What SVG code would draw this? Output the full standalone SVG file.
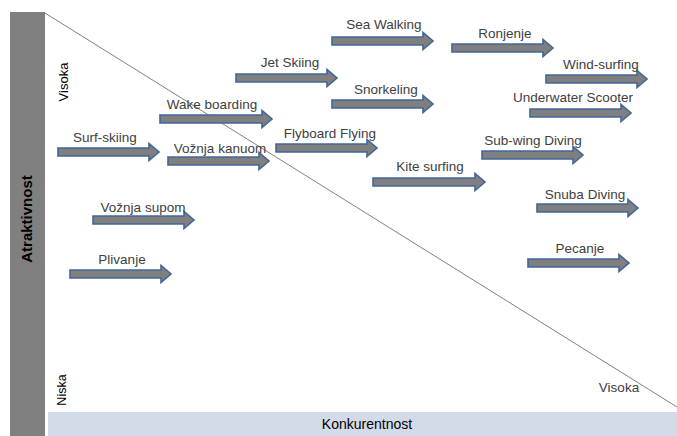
<svg xmlns="http://www.w3.org/2000/svg" xmlns:xlink="http://www.w3.org/1999/xlink" width="677" height="436" viewBox="0 0 677 436">
<style>
.lbl{font-family:"Liberation Sans",Arial,sans-serif;font-size:13.5px;fill:#404040;text-anchor:middle}
.ax{font-family:"Liberation Sans",Arial,sans-serif;font-size:12.5px;fill:#000;text-anchor:middle}
.arr{fill:#7f7f7f;stroke:#41679a;stroke-width:1.6;stroke-linejoin:miter}
</style>
<defs>
<path id="a101" class="arr" d="M0,-4 H91 V-8.5 L101,0 L91,8.5 V4 H0 Z"/>
<path id="a112" class="arr" d="M0,-4 H102 V-8.5 L112,0 L102,8.5 V4 H0 Z"/>
</defs>
<rect width="677" height="436" fill="#fff"/>
<g id="axes">
<rect x="10" y="12" width="35" height="424" fill="#808080"/>
<rect x="48" y="412" width="629" height="24" fill="#d3dbe9"/>
<text class="ax" font-weight="bold" font-size="15px" style="font-size:15px" transform="translate(32,219) rotate(-90)">Atraktivnost</text>
<text class="ax" style="font-size:13px" transform="translate(68,82) rotate(-90)">Visoka</text>
<text class="ax" transform="translate(66,390) rotate(-90)">Niska</text>
<text class="lbl" x="619" y="392">Visoka</text>
<text class="ax" style="font-size:14px" x="367" y="429">Konkurentnost</text>
</g>
<g id="connectors">
<line x1="45" y1="13" x2="677" y2="407" stroke="#808080" stroke-width="1"/>
</g>
<g id="sea-walking"><use xlink:href="#a101" x="332" y="41"/><text class="lbl" x="384" y="29">Sea Walking</text></g>
<g id="ronjenje"><use xlink:href="#a101" x="452" y="48"/><text class="lbl" x="505" y="38">Ronjenje</text></g>
<g id="wind-surfing"><use xlink:href="#a101" x="546" y="79"/><text class="lbl" x="601" y="69">Wind-surfing</text></g>
<g id="underwater-scooter"><use xlink:href="#a101" x="530" y="113"/><text class="lbl" x="573" y="102">Underwater Scooter</text></g>
<g id="jet-skiing"><use xlink:href="#a101" x="236" y="78"/><text class="lbl" x="290" y="67">Jet Skiing</text></g>
<g id="snorkeling"><use xlink:href="#a101" x="332" y="104"/><text class="lbl" x="386" y="94">Snorkeling</text></g>
<g id="wake-boarding"><use xlink:href="#a112" x="160" y="119"/><text class="lbl" x="212" y="109">Wake boarding</text></g>
<g id="surf-skiing"><use xlink:href="#a101" x="58" y="152"/><text class="lbl" x="105" y="142">Surf-skiing</text></g>
<g id="voznja-kanuom"><use xlink:href="#a101" x="168" y="161"/><text class="lbl" x="220" y="153">Vožnja kanuom</text></g>
<g id="flyboard-flying"><use xlink:href="#a101" x="276" y="148"/><text class="lbl" x="330" y="138">Flyboard Flying</text></g>
<g id="kite-surfing"><use xlink:href="#a112" x="373" y="182"/><text class="lbl" x="430" y="171">Kite surfing</text></g>
<g id="sub-wing-diving"><use xlink:href="#a101" x="482" y="155"/><text class="lbl" x="533" y="145">Sub-wing Diving</text></g>
<g id="snuba-diving"><use xlink:href="#a101" x="537" y="208"/><text class="lbl" x="585" y="199">Snuba Diving</text></g>
<g id="voznja-supom"><use xlink:href="#a101" x="93" y="220"/><text class="lbl" x="143" y="212">Vožnja supom</text></g>
<g id="pecanje"><use xlink:href="#a101" x="528" y="263"/><text class="lbl" x="580" y="253">Pecanje</text></g>
<g id="plivanje"><use xlink:href="#a101" x="70" y="274"/><text class="lbl" x="122" y="264">Plivanje</text></g>
</svg>
